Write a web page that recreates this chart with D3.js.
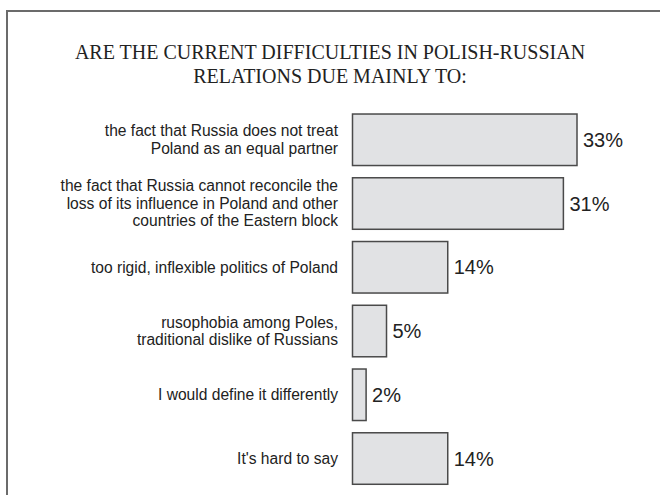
<!DOCTYPE html>
<html>
<head>
<meta charset="utf-8">
<script src="https://cdn.jsdelivr.net/npm/d3@7"></script>
<style>
  html, body { margin: 0; padding: 0; background: #fff; }
  svg { display: block; }
</style>
</head>
<body>
<svg id="chart" width="660" height="495"></svg>
<script>
const titleLines = ["ARE THE CURRENT DIFFICULTIES IN POLISH-RUSSIAN", "RELATIONS DUE MAINLY TO:"];
const categories = [
  "the fact that Russia does not treat\nPoland as an equal partner",
  "the fact that Russia cannot reconcile the\nloss of its influence in Poland and other\ncountries of the Eastern block",
  "too rigid, inflexible politics of Poland",
  "rusophobia among Poles,\ntraditional dislike of Russians",
  "I would define it differently",
  "It's hard to say"
];
const values = [33, 31, 14, 5, 2, 14];
const valueLabels = ["33%", "31%", "14%", "5%", "2%", "14%"];

const svg = d3.select("#chart");

// frame
svg.append("rect")
  .attr("x", 7).attr("y", 11)
  .attr("width", 700).attr("height", 600)
  .attr("fill", "none").attr("stroke", "#6b6b6b").attr("stroke-width", 2);

// title
svg.append("g").selectAll("text").data(titleLines).join("text")
  .attr("x", 330).attr("y", (d, i) => 59 + i * 24)
  .attr("text-anchor", "middle")
  .attr("font-family", "'Liberation Serif', 'Times New Roman', serif")
  .attr("font-size", 20)
  .attr("fill", "#222")
  .text(d => d);

const x = d3.scaleLinear().domain([0, 33]).range([352.5, 577]);
const y = d3.scaleBand().domain(categories).range([107.9, 490.4]).paddingInner(0.192).paddingOuter(0.096);

const g = svg.append("g");

g.selectAll("rect.bar").data(values).join("rect")
  .attr("class", "bar")
  .attr("x", x(0))
  .attr("y", (d, i) => y(categories[i]))
  .attr("width", d => x(d) - x(0))
  .attr("height", y.bandwidth())
  .attr("fill", "#e1e2e4")
  .attr("stroke", "#4a4a4a")
  .attr("stroke-width", 1.5);

g.selectAll("text.val").data(values).join("text")
  .attr("class", "val")
  .attr("x", d => x(d) + 6)
  .attr("y", (d, i) => y(categories[i]) + y.bandwidth() / 2)
  .attr("dy", "0.36em")
  .attr("font-family", "'Liberation Sans', Arial, sans-serif")
  .attr("font-size", 20)
  .attr("fill", "#222")
  .text((d, i) => valueLabels[i]);

const lineH = 17.5;
categories.forEach((c, i) => {
  const lines = c.split("\n");
  const cy = y(c) + y.bandwidth() / 2;
  const t = g.append("text")
    .attr("text-anchor", "end")
    .attr("font-family", "'Liberation Sans', Arial, sans-serif")
    .attr("font-size", 15.6)
    .attr("fill", "#222");
  lines.forEach((l, j) => {
    t.append("tspan")
      .attr("x", 338)
      .attr("y", cy + (j - (lines.length - 1) / 2) * lineH)
      .attr("dy", "0.35em")
      .text(l);
  });
});
</script>
</body>
</html>
